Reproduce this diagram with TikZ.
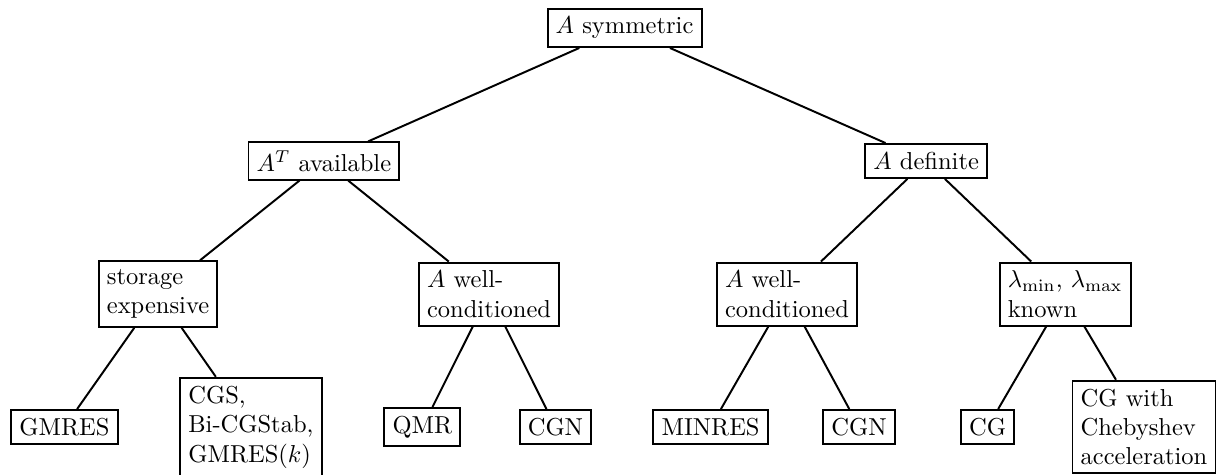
\documentclass[tikz,border=0pt]{standalone}
\usepackage{tikz}

\begin{document}
\begin{tikzpicture}[x=1pt,y=-1pt,
  box/.style={draw,thick,align=left,inner sep=.3333em},
  edge/.style={thick}]
\useasboundingbox (0,0) rectangle (496.7,193.5);
% first two levels
\node[box] (sym) at (254.9,11.4) {$A$ symmetric};
\node[box] (avail) at (132.2,65.7) {$A^T$ available};
\node[box] (def) at (378.0,65.7) {$A$ definite};
% questions
\node[box] (store) at (64.5,120.0) {storage\\expensive};
\node[box] (wellL) at (199.6,120.0) {$A$ well-\\conditioned};
\node[box] (wellR) at (321.2,120.0) {$A$ well-\\conditioned};
\node[box] (eig) at (434.7,120.0) {$\lambda_{\min}$, $\lambda_{\max}$\\known};
% methods
\node[box] (gmres) at (26.3,174.3) {GMRES};
\node[box] (cgs) at (102.4,174.3) {CGS,\\Bi-CGStab,\\GMRES$(k)$};
\node[box] (qmr) at (172.4,174.3) {QMR};
\node[box] (cgnL) at (226.7,174.3) {CGN};
\node[box] (minres) at (290.0,174.3) {MINRES};
\node[box] (cgnR) at (350.6,174.3) {CGN};
\node[box] (cg) at (403.1,174.3) {CG};
\node[box] (cheb) at (466.9,174.3) {CG with\\Chebyshev\\acceleration};
\foreach \a/\b in {sym/avail, sym/def, avail/store, avail/wellL, def/wellR, def/eig,
  store/gmres, store/cgs, wellL/qmr, wellL/cgnL, wellR/minres, wellR/cgnR, eig/cg, eig/cheb}
\draw[edge] (\a) -- (\b);
\end{tikzpicture}
\end{document}
